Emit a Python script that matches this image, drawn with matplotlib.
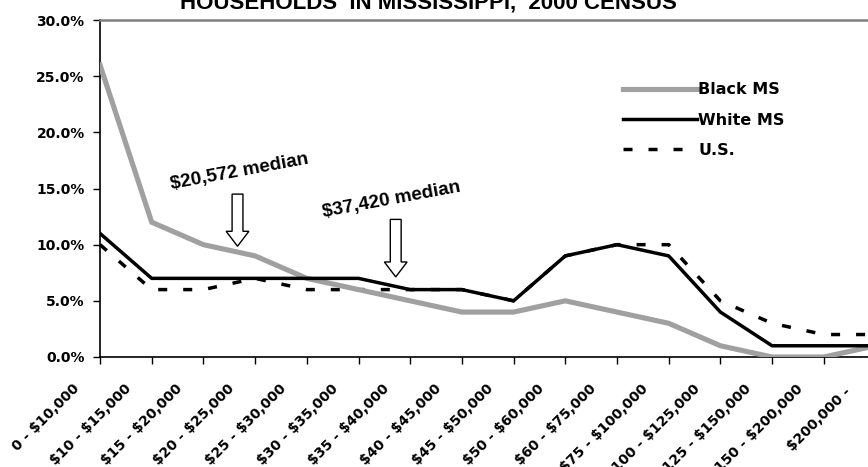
#!/usr/bin/env python3

'''
	Household income distribution, Mississippi vs U.S. (2000 census)
'''

import numpy as np
import matplotlib
matplotlib.use('Agg')
import matplotlib.pyplot as plt
import matplotlib.transforms as mtrans
from matplotlib.patches import FancyArrow

# Income brackets
brackets = ['0 - $10,000', '$10 - $15,000', '$15 - $20,000', '$20 - $25,000',
	'$25 - $30,000', '$30 - $35,000', '$35 - $40,000', '$40 - $45,000',
	'$45 - $50,000', '$50 - $60,000', '$60 - $75,000', '$75 - $100,000',
	'$100 - $125,000', '$125 - $150,000', '$150 - $200,000', '$200,000 - ']

# Share of households (%)
black_ms = [26, 12, 10, 9, 7, 6, 5, 4, 4, 5, 4, 3, 1, 0, 0, 1]
white_ms = [11, 7, 7, 7, 7, 7, 6, 6, 5, 9, 10, 9, 4, 1, 1, 1]
us_all = [10, 6, 6, 7, 6, 6, 6, 6, 5, 9, 10, 10, 5, 3, 2, 2]

yticks = [0, 5, 10, 15, 20, 25, 30]

# dollar signs are plain text here, not mathtext
plt.rcParams['text.parse_math'] = False

W, H = 868, 467
fig = plt.figure(figsize=(W / 100, H / 100), dpi=100)
# axes: left at px 100, bottom at px 357, top at px 20; last category beyond right edge
ax = fig.add_axes([100 / W, (H - 357) / H, 775.5 / W, 337 / H])

x = np.arange(len(brackets))
ax.plot(x, black_ms, color='#a0a0a0', linewidth=3.7, label='Black MS',
	solid_joinstyle='miter', zorder=3)
ax.plot(x, white_ms, color='black', linewidth=2.5, label='White MS', zorder=4)
ax.plot(x, us_all, color='black', linewidth=2.5, linestyle=(0, (2.6, 4.6)),
	label='U.S.', zorder=2)

ax.set_xlim(0, len(brackets) - 1)
ax.set_ylim(0, 30)

# Axes styling
ax.spines['right'].set_visible(False)
ax.spines['top'].set_color('#808080')
ax.spines['top'].set_linewidth(1.8)
ax.spines['left'].set_linewidth(1.2)
ax.spines['bottom'].set_linewidth(1.2)

ax.set_yticks(yticks)
ax.set_yticklabels(['{:.1f}%'.format(v) for v in yticks],
	fontsize=10, fontweight='bold', family='DejaVu Sans')
ax.tick_params(axis='y', direction='out', length=5, width=1, pad=6)

ax.set_xticks(x)
ax.set_xticklabels(brackets, rotation=45, ha='right', va='top',
	fontsize=10, fontweight='bold', family='DejaVu Sans')
ax.tick_params(axis='x', direction='out', length=5, width=1, pad=9)
shift = mtrans.ScaledTranslation(-18 / 100, -5 / 100, fig.dpi_scale_trans)
for lab in ax.get_xticklabels():
	lab.set_transform(lab.get_transform() + shift)

# Median annotations with hollow arrows
ax.text(1.38, 14.95, '$20,572 median', rotation=10.5, rotation_mode='anchor',
	ha='left', va='baseline', fontsize=13.7, fontweight='bold',
	family='Liberation Sans', zorder=5)
ax.text(4.32, 12.45, '$37,420 median', rotation=10.5, rotation_mode='anchor',
	ha='left', va='baseline', fontsize=13.7, fontweight='bold',
	family='Liberation Sans', zorder=5)
for ax_x, top, tip in [(2.66, 14.5, 9.86), (5.72, 12.25, 7.13)]:
	arr = FancyArrow(ax_x, top, 0, tip - top, width=0.21, head_width=0.44,
		head_length=1.33, length_includes_head=True,
		facecolor='white', edgecolor='black', linewidth=1.0, zorder=6)
	ax.add_patch(arr)

# Legend
leg = ax.legend(loc='upper left', frameon=False, handlelength=4.6,
	handletextpad=0.1, labelspacing=0.95,
	prop={'family': 'DejaVu Sans', 'weight': 'bold', 'size': 11.5})
leg.set_bbox_to_anchor((609 / W, (H - 68) / H), transform=fig.transFigure)

# Title (top partly cut off, as in the source)
fig.text(428 / W, 1 - 9 / H, 'HOUSEHOLDS  IN MISSISSIPPI,  2000 CENSUS',
	ha='center', va='baseline', fontsize=16, fontweight='bold',
	family='Liberation Sans')

fig.savefig('out.png', dpi=100)
